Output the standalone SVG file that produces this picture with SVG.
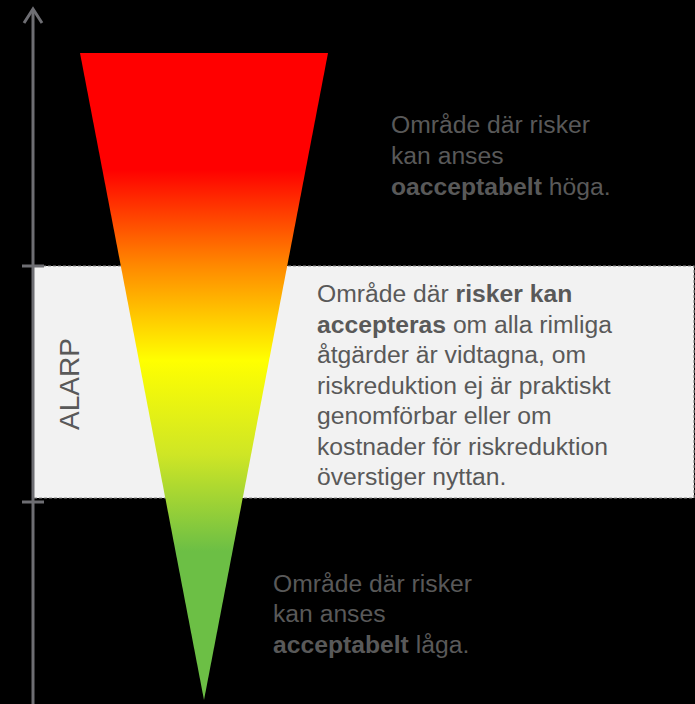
<svg xmlns="http://www.w3.org/2000/svg" width="695" height="704" viewBox="0 0 695 704">
<style>
.t{font-family:"Liberation Sans",Arial,sans-serif;font-size:24.7px;fill:#595959}
.b{font-weight:bold}
.ax{stroke:#6e6e73;stroke-width:3;fill:none}
</style>
<defs>
<linearGradient id="g" x1="0" y1="53" x2="0" y2="700" gradientUnits="userSpaceOnUse">
<stop offset="0" stop-color="#ff0000"/>
<stop offset="0.18" stop-color="#ff0000"/>
<stop offset="0.33" stop-color="#ff8a00"/>
<stop offset="0.475" stop-color="#ffff00"/>
<stop offset="0.62" stop-color="#cfe625"/>
<stop offset="0.77" stop-color="#6cbf45"/>
<stop offset="1" stop-color="#6cbf45"/>
</linearGradient>
</defs>
<rect width="695" height="704" fill="#000"/>
<g id="alarp-band">
<rect x="33" y="266" width="661" height="232" fill="#f2f2f2" stroke="#8a8a8a" stroke-width="1.2" stroke-dasharray="3,2"/>
<text class="t" transform="translate(79,384) rotate(-90)" text-anchor="middle" style="font-size:28px">ALARP</text>
</g>
<g id="triangle">
<polygon points="80,53 328,53 204,700" fill="url(#g)"/>
</g>
<g id="connectors">
<line class="ax" x1="33" y1="704" x2="33" y2="9"/>
<polyline class="ax" points="24,23 33,9 42,23"/>
<line class="ax" x1="22" y1="266" x2="44" y2="266"/>
<line class="ax" x1="22" y1="502" x2="44" y2="502"/>
</g>
<g id="top-text">
<text class="t" x="391" y="133">Område där risker</text>
<text class="t" x="391" y="164">kan anses</text>
<text class="t" x="391" y="195"><tspan class="b">oacceptabelt</tspan> höga.</text>
</g>
<g id="mid-text">
<text class="t" x="317" y="302">Område där <tspan class="b">risker kan</tspan></text>
<text class="t" x="317" y="332.5"><tspan class="b">accepteras</tspan> om alla rimliga</text>
<text class="t" x="317" y="363">åtgärder är vidtagna, om</text>
<text class="t" x="317" y="393.5">riskreduktion ej är praktiskt</text>
<text class="t" x="317" y="424">genomförbar eller om</text>
<text class="t" x="317" y="454.5">kostnader för riskreduktion</text>
<text class="t" x="317" y="485">överstiger nyttan.</text>
</g>
<g id="bottom-text">
<text class="t" x="273" y="592">Område där risker</text>
<text class="t" x="273" y="622">kan anses</text>
<text class="t" x="273" y="653"><tspan class="b">acceptabelt</tspan> låga.</text>
</g>
</svg>
